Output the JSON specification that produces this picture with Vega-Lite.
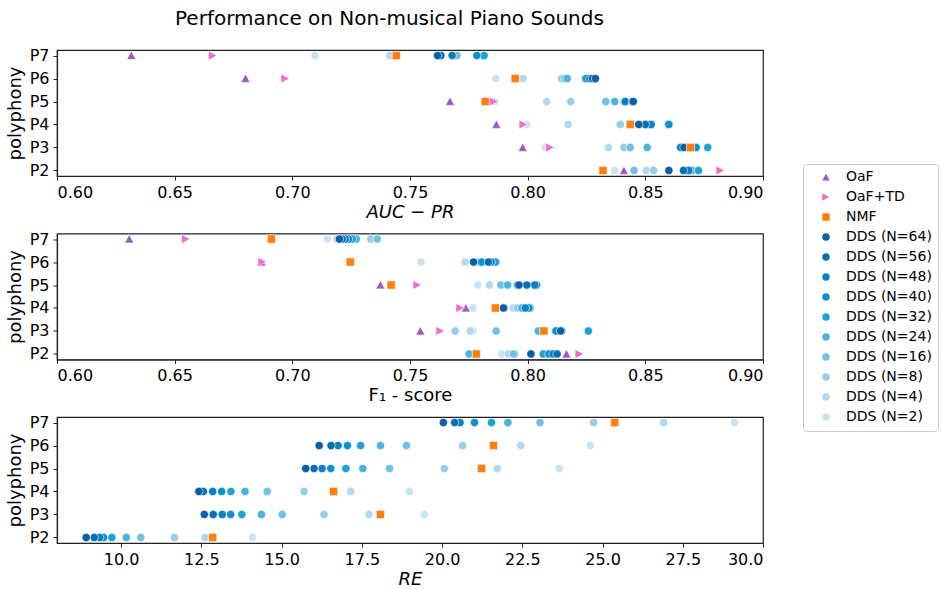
{
  "$schema": "https://vega.github.io/schema/vega-lite/v6.json",
  "background": "white",
  "padding": {"left": 5, "top": 8, "right": 5, "bottom": 5},
  "config": {
    "font": "DejaVu Sans",
    "view": {"stroke": "#222222", "strokeWidth": 1.2},
    "axis": {"domainColor": "#222222", "domainWidth": 1.2, "tickColor": "#222222", "labelColor": "black", "titleColor": "black", "labelFont": "DejaVu Sans", "titleFont": "DejaVu Sans", "labelFontSize": 16, "titleFontSize": 18, "titleFontWeight": "normal", "grid": false, "tickSize": 4, "labelPadding": 4},
    "legend": {"labelFont": "DejaVu Sans", "labelFontSize": 14, "labelColor": "black"},
    "title": {"font": "DejaVu Sans", "fontSize": 20, "fontWeight": "normal", "color": "black"}
  },
  "title": {"text": "Performance on Non-musical Piano Sounds", "anchor": "start", "frame": "group", "dx": 118, "offset": 18},
  "datasets": {
    "rows": [
      {"metric":"AUC","polyphony":"P7","method":"DDS (N=2)","value":0.7096},
      {"metric":"AUC","polyphony":"P7","method":"DDS (N=4)","value":0.7414},
      {"metric":"AUC","polyphony":"P7","method":"DDS (N=8)","value":0.7699},
      {"metric":"AUC","polyphony":"P7","method":"DDS (N=16)","value":0.7700},
      {"metric":"AUC","polyphony":"P7","method":"DDS (N=24)","value":0.7810},
      {"metric":"AUC","polyphony":"P7","method":"DDS (N=32)","value":0.7815},
      {"metric":"AUC","polyphony":"P7","method":"DDS (N=40)","value":0.7784},
      {"metric":"AUC","polyphony":"P7","method":"DDS (N=48)","value":0.7679},
      {"metric":"AUC","polyphony":"P7","method":"DDS (N=56)","value":0.7631},
      {"metric":"AUC","polyphony":"P7","method":"DDS (N=64)","value":0.7617},
      {"metric":"AUC","polyphony":"P7","method":"NMF","value":0.7442},
      {"metric":"AUC","polyphony":"P7","method":"OaF","value":0.6316},
      {"metric":"AUC","polyphony":"P7","method":"OaF+TD","value":0.6661},

      {"metric":"AUC","polyphony":"P6","method":"DDS (N=2)","value":0.7864},
      {"metric":"AUC","polyphony":"P6","method":"DDS (N=4)","value":0.7981},
      {"metric":"AUC","polyphony":"P6","method":"DDS (N=8)","value":0.8144},
      {"metric":"AUC","polyphony":"P6","method":"DDS (N=16)","value":0.8158},
      {"metric":"AUC","polyphony":"P6","method":"DDS (N=24)","value":0.8168},
      {"metric":"AUC","polyphony":"P6","method":"DDS (N=32)","value":0.8245},
      {"metric":"AUC","polyphony":"P6","method":"DDS (N=40)","value":0.8250},
      {"metric":"AUC","polyphony":"P6","method":"DDS (N=48)","value":0.8264},
      {"metric":"AUC","polyphony":"P6","method":"DDS (N=56)","value":0.8275},
      {"metric":"AUC","polyphony":"P6","method":"DDS (N=64)","value":0.8288},
      {"metric":"AUC","polyphony":"P6","method":"NMF","value":0.7947},
      {"metric":"AUC","polyphony":"P6","method":"OaF","value":0.6801},
      {"metric":"AUC","polyphony":"P6","method":"OaF+TD","value":0.6969},

      {"metric":"AUC","polyphony":"P5","method":"DDS (N=2)","value":0.7860},
      {"metric":"AUC","polyphony":"P5","method":"DDS (N=4)","value":0.8081},
      {"metric":"AUC","polyphony":"P5","method":"DDS (N=8)","value":0.8183},
      {"metric":"AUC","polyphony":"P5","method":"DDS (N=16)","value":0.8332},
      {"metric":"AUC","polyphony":"P5","method":"DDS (N=24)","value":0.8370},
      {"metric":"AUC","polyphony":"P5","method":"DDS (N=32)","value":0.8410},
      {"metric":"AUC","polyphony":"P5","method":"DDS (N=40)","value":0.8412},
      {"metric":"AUC","polyphony":"P5","method":"DDS (N=48)","value":0.8415},
      {"metric":"AUC","polyphony":"P5","method":"DDS (N=56)","value":0.8445},
      {"metric":"AUC","polyphony":"P5","method":"DDS (N=64)","value":0.8449},
      {"metric":"AUC","polyphony":"P5","method":"NMF","value":0.7820},
      {"metric":"AUC","polyphony":"P5","method":"OaF","value":0.7670},
      {"metric":"AUC","polyphony":"P5","method":"OaF+TD","value":0.7856},

      {"metric":"AUC","polyphony":"P4","method":"DDS (N=2)","value":0.7996},
      {"metric":"AUC","polyphony":"P4","method":"DDS (N=4)","value":0.8172},
      {"metric":"AUC","polyphony":"P4","method":"DDS (N=8)","value":0.8394},
      {"metric":"AUC","polyphony":"P4","method":"DDS (N=16)","value":0.8508},
      {"metric":"AUC","polyphony":"P4","method":"DDS (N=24)","value":0.8520},
      {"metric":"AUC","polyphony":"P4","method":"DDS (N=32)","value":0.8598},
      {"metric":"AUC","polyphony":"P4","method":"DDS (N=40)","value":0.8600},
      {"metric":"AUC","polyphony":"P4","method":"DDS (N=48)","value":0.8525},
      {"metric":"AUC","polyphony":"P4","method":"DDS (N=56)","value":0.8500},
      {"metric":"AUC","polyphony":"P4","method":"DDS (N=64)","value":0.8472},
      {"metric":"AUC","polyphony":"P4","method":"NMF","value":0.8436},
      {"metric":"AUC","polyphony":"P4","method":"OaF","value":0.7867},
      {"metric":"AUC","polyphony":"P4","method":"OaF+TD","value":0.7981},

      {"metric":"AUC","polyphony":"P3","method":"DDS (N=2)","value":0.8076},
      {"metric":"AUC","polyphony":"P3","method":"DDS (N=4)","value":0.8343},
      {"metric":"AUC","polyphony":"P3","method":"DDS (N=8)","value":0.8409},
      {"metric":"AUC","polyphony":"P3","method":"DDS (N=16)","value":0.8436},
      {"metric":"AUC","polyphony":"P3","method":"DDS (N=24)","value":0.8508},
      {"metric":"AUC","polyphony":"P3","method":"DDS (N=32)","value":0.8765},
      {"metric":"AUC","polyphony":"P3","method":"DDS (N=40)","value":0.8716},
      {"metric":"AUC","polyphony":"P3","method":"DDS (N=48)","value":0.8650},
      {"metric":"AUC","polyphony":"P3","method":"DDS (N=56)","value":0.8690},
      {"metric":"AUC","polyphony":"P3","method":"DDS (N=64)","value":0.8664},
      {"metric":"AUC","polyphony":"P3","method":"NMF","value":0.8692},
      {"metric":"AUC","polyphony":"P3","method":"OaF","value":0.7979},
      {"metric":"AUC","polyphony":"P3","method":"OaF+TD","value":0.8094},

      {"metric":"AUC","polyphony":"P2","method":"DDS (N=2)","value":0.8369},
      {"metric":"AUC","polyphony":"P2","method":"DDS (N=4)","value":0.8504},
      {"metric":"AUC","polyphony":"P2","method":"DDS (N=8)","value":0.8535},
      {"metric":"AUC","polyphony":"P2","method":"DDS (N=16)","value":0.8452},
      {"metric":"AUC","polyphony":"P2","method":"DDS (N=24)","value":0.8699},
      {"metric":"AUC","polyphony":"P2","method":"DDS (N=32)","value":0.8726},
      {"metric":"AUC","polyphony":"P2","method":"DDS (N=40)","value":0.8680},
      {"metric":"AUC","polyphony":"P2","method":"DDS (N=48)","value":0.8685},
      {"metric":"AUC","polyphony":"P2","method":"DDS (N=56)","value":0.8662},
      {"metric":"AUC","polyphony":"P2","method":"DDS (N=64)","value":0.8600},
      {"metric":"AUC","polyphony":"P2","method":"NMF","value":0.8320},
      {"metric":"AUC","polyphony":"P2","method":"OaF","value":0.8409},
      {"metric":"AUC","polyphony":"P2","method":"OaF+TD","value":0.8818},

      {"metric":"F1","polyphony":"P7","method":"DDS (N=2)","value":0.7149},
      {"metric":"F1","polyphony":"P7","method":"DDS (N=4)","value":0.7190},
      {"metric":"F1","polyphony":"P7","method":"DDS (N=8)","value":0.7333},
      {"metric":"F1","polyphony":"P7","method":"DDS (N=16)","value":0.7361},
      {"metric":"F1","polyphony":"P7","method":"DDS (N=24)","value":0.7272},
      {"metric":"F1","polyphony":"P7","method":"DDS (N=32)","value":0.7255},
      {"metric":"F1","polyphony":"P7","method":"DDS (N=40)","value":0.7239},
      {"metric":"F1","polyphony":"P7","method":"DDS (N=48)","value":0.7225},
      {"metric":"F1","polyphony":"P7","method":"DDS (N=56)","value":0.7212},
      {"metric":"F1","polyphony":"P7","method":"DDS (N=64)","value":0.7200},
      {"metric":"F1","polyphony":"P7","method":"NMF","value":0.6911},
      {"metric":"F1","polyphony":"P7","method":"OaF","value":0.6307},
      {"metric":"F1","polyphony":"P7","method":"OaF+TD","value":0.6547},

      {"metric":"F1","polyphony":"P6","method":"DDS (N=2)","value":0.7547},
      {"metric":"F1","polyphony":"P6","method":"DDS (N=4)","value":0.7734},
      {"metric":"F1","polyphony":"P6","method":"DDS (N=8)","value":0.7786},
      {"metric":"F1","polyphony":"P6","method":"DDS (N=16)","value":0.7790},
      {"metric":"F1","polyphony":"P6","method":"DDS (N=24)","value":0.7800},
      {"metric":"F1","polyphony":"P6","method":"DDS (N=32)","value":0.7864},
      {"metric":"F1","polyphony":"P6","method":"DDS (N=40)","value":0.7805},
      {"metric":"F1","polyphony":"P6","method":"DDS (N=48)","value":0.7845},
      {"metric":"F1","polyphony":"P6","method":"DDS (N=56)","value":0.7833},
      {"metric":"F1","polyphony":"P6","method":"DDS (N=64)","value":0.7770},
      {"metric":"F1","polyphony":"P6","method":"NMF","value":0.7246},
      {"metric":"F1","polyphony":"P6","method":"OaF","value":0.6869},
      {"metric":"F1","polyphony":"P6","method":"OaF+TD","value":0.6871},

      {"metric":"F1","polyphony":"P5","method":"DDS (N=2)","value":0.7788},
      {"metric":"F1","polyphony":"P5","method":"DDS (N=4)","value":0.7837},
      {"metric":"F1","polyphony":"P5","method":"DDS (N=8)","value":0.8024},
      {"metric":"F1","polyphony":"P5","method":"DDS (N=16)","value":0.7886},
      {"metric":"F1","polyphony":"P5","method":"DDS (N=24)","value":0.7915},
      {"metric":"F1","polyphony":"P5","method":"DDS (N=32)","value":0.7956},
      {"metric":"F1","polyphony":"P5","method":"DDS (N=40)","value":0.8038},
      {"metric":"F1","polyphony":"P5","method":"DDS (N=48)","value":0.8030},
      {"metric":"F1","polyphony":"P5","method":"DDS (N=56)","value":0.7996},
      {"metric":"F1","polyphony":"P5","method":"DDS (N=64)","value":0.7963},
      {"metric":"F1","polyphony":"P5","method":"NMF","value":0.7420},
      {"metric":"F1","polyphony":"P5","method":"OaF","value":0.7374},
      {"metric":"F1","polyphony":"P5","method":"OaF+TD","value":0.7530},

      {"metric":"F1","polyphony":"P4","method":"DDS (N=2)","value":0.7767},
      {"metric":"F1","polyphony":"P4","method":"DDS (N=4)","value":0.7939},
      {"metric":"F1","polyphony":"P4","method":"DDS (N=8)","value":0.7956},
      {"metric":"F1","polyphony":"P4","method":"DDS (N=16)","value":0.7984},
      {"metric":"F1","polyphony":"P4","method":"DDS (N=24)","value":0.7975},
      {"metric":"F1","polyphony":"P4","method":"DDS (N=32)","value":0.8010},
      {"metric":"F1","polyphony":"P4","method":"DDS (N=40)","value":0.8005},
      {"metric":"F1","polyphony":"P4","method":"DDS (N=48)","value":0.7990},
      {"metric":"F1","polyphony":"P4","method":"DDS (N=56)","value":0.7900},
      {"metric":"F1","polyphony":"P4","method":"DDS (N=64)","value":0.7897},
      {"metric":"F1","polyphony":"P4","method":"NMF","value":0.7863},
      {"metric":"F1","polyphony":"P4","method":"OaF","value":0.7737},
      {"metric":"F1","polyphony":"P4","method":"OaF+TD","value":0.7713},

      {"metric":"F1","polyphony":"P3","method":"DDS (N=2)","value":0.7767},
      {"metric":"F1","polyphony":"P3","method":"DDS (N=4)","value":0.7756},
      {"metric":"F1","polyphony":"P3","method":"DDS (N=8)","value":0.7692},
      {"metric":"F1","polyphony":"P3","method":"DDS (N=16)","value":0.7866},
      {"metric":"F1","polyphony":"P3","method":"DDS (N=24)","value":0.8045},
      {"metric":"F1","polyphony":"P3","method":"DDS (N=32)","value":0.8258},
      {"metric":"F1","polyphony":"P3","method":"DDS (N=40)","value":0.8120},
      {"metric":"F1","polyphony":"P3","method":"DDS (N=48)","value":0.8069},
      {"metric":"F1","polyphony":"P3","method":"DDS (N=56)","value":0.8144},
      {"metric":"F1","polyphony":"P3","method":"DDS (N=64)","value":0.8140},
      {"metric":"F1","polyphony":"P3","method":"NMF","value":0.8069},
      {"metric":"F1","polyphony":"P3","method":"OaF","value":0.7544},
      {"metric":"F1","polyphony":"P3","method":"OaF+TD","value":0.7628},

      {"metric":"F1","polyphony":"P2","method":"DDS (N=2)","value":0.7890},
      {"metric":"F1","polyphony":"P2","method":"DDS (N=4)","value":0.7918},
      {"metric":"F1","polyphony":"P2","method":"DDS (N=8)","value":0.7946},
      {"metric":"F1","polyphony":"P2","method":"DDS (N=16)","value":0.7940},
      {"metric":"F1","polyphony":"P2","method":"DDS (N=24)","value":0.7751},
      {"metric":"F1","polyphony":"P2","method":"DDS (N=32)","value":0.8066},
      {"metric":"F1","polyphony":"P2","method":"DDS (N=40)","value":0.8090},
      {"metric":"F1","polyphony":"P2","method":"DDS (N=48)","value":0.8108},
      {"metric":"F1","polyphony":"P2","method":"DDS (N=56)","value":0.8125},
      {"metric":"F1","polyphony":"P2","method":"DDS (N=64)","value":0.8014},
      {"metric":"F1","polyphony":"P2","method":"NMF","value":0.7782},
      {"metric":"F1","polyphony":"P2","method":"OaF","value":0.8165},
      {"metric":"F1","polyphony":"P2","method":"OaF+TD","value":0.8219},

      {"metric":"RE","polyphony":"P7","method":"DDS (N=2)","value":29.11},
      {"metric":"RE","polyphony":"P7","method":"DDS (N=4)","value":26.90},
      {"metric":"RE","polyphony":"P7","method":"DDS (N=8)","value":24.72},
      {"metric":"RE","polyphony":"P7","method":"DDS (N=16)","value":23.05},
      {"metric":"RE","polyphony":"P7","method":"DDS (N=24)","value":22.05},
      {"metric":"RE","polyphony":"P7","method":"DDS (N=32)","value":21.54},
      {"metric":"RE","polyphony":"P7","method":"DDS (N=40)","value":21.01},
      {"metric":"RE","polyphony":"P7","method":"DDS (N=48)","value":20.56},
      {"metric":"RE","polyphony":"P7","method":"DDS (N=56)","value":20.39},
      {"metric":"RE","polyphony":"P7","method":"DDS (N=64)","value":20.04},
      {"metric":"RE","polyphony":"P7","method":"NMF","value":25.38},

      {"metric":"RE","polyphony":"P6","method":"DDS (N=2)","value":24.62},
      {"metric":"RE","polyphony":"P6","method":"DDS (N=4)","value":22.45},
      {"metric":"RE","polyphony":"P6","method":"DDS (N=8)","value":20.64},
      {"metric":"RE","polyphony":"P6","method":"DDS (N=16)","value":18.89},
      {"metric":"RE","polyphony":"P6","method":"DDS (N=24)","value":18.08},
      {"metric":"RE","polyphony":"P6","method":"DDS (N=32)","value":17.46},
      {"metric":"RE","polyphony":"P6","method":"DDS (N=40)","value":17.05},
      {"metric":"RE","polyphony":"P6","method":"DDS (N=48)","value":16.76},
      {"metric":"RE","polyphony":"P6","method":"DDS (N=56)","value":16.54},
      {"metric":"RE","polyphony":"P6","method":"DDS (N=64)","value":16.17},
      {"metric":"RE","polyphony":"P6","method":"NMF","value":21.60},

      {"metric":"RE","polyphony":"P5","method":"DDS (N=2)","value":23.65},
      {"metric":"RE","polyphony":"P5","method":"DDS (N=4)","value":21.72},
      {"metric":"RE","polyphony":"P5","method":"DDS (N=8)","value":20.07},
      {"metric":"RE","polyphony":"P5","method":"DDS (N=16)","value":18.36},
      {"metric":"RE","polyphony":"P5","method":"DDS (N=24)","value":17.53},
      {"metric":"RE","polyphony":"P5","method":"DDS (N=32)","value":17.00},
      {"metric":"RE","polyphony":"P5","method":"DDS (N=40)","value":16.53},
      {"metric":"RE","polyphony":"P5","method":"DDS (N=48)","value":16.26},
      {"metric":"RE","polyphony":"P5","method":"DDS (N=56)","value":16.01},
      {"metric":"RE","polyphony":"P5","method":"DDS (N=64)","value":15.75},
      {"metric":"RE","polyphony":"P5","method":"NMF","value":21.23},

      {"metric":"RE","polyphony":"P4","method":"DDS (N=2)","value":18.98},
      {"metric":"RE","polyphony":"P4","method":"DDS (N=4)","value":17.15},
      {"metric":"RE","polyphony":"P4","method":"DDS (N=8)","value":15.70},
      {"metric":"RE","polyphony":"P4","method":"DDS (N=16)","value":14.55},
      {"metric":"RE","polyphony":"P4","method":"DDS (N=24)","value":13.86},
      {"metric":"RE","polyphony":"P4","method":"DDS (N=32)","value":13.42},
      {"metric":"RE","polyphony":"P4","method":"DDS (N=40)","value":13.13},
      {"metric":"RE","polyphony":"P4","method":"DDS (N=48)","value":12.85},
      {"metric":"RE","polyphony":"P4","method":"DDS (N=56)","value":12.56},
      {"metric":"RE","polyphony":"P4","method":"DDS (N=64)","value":12.42},
      {"metric":"RE","polyphony":"P4","method":"NMF","value":16.62},

      {"metric":"RE","polyphony":"P3","method":"DDS (N=2)","value":19.45},
      {"metric":"RE","polyphony":"P3","method":"DDS (N=4)","value":17.72},
      {"metric":"RE","polyphony":"P3","method":"DDS (N=8)","value":16.32},
      {"metric":"RE","polyphony":"P3","method":"DDS (N=16)","value":15.02},
      {"metric":"RE","polyphony":"P3","method":"DDS (N=24)","value":14.37},
      {"metric":"RE","polyphony":"P3","method":"DDS (N=32)","value":13.76},
      {"metric":"RE","polyphony":"P3","method":"DDS (N=40)","value":13.41},
      {"metric":"RE","polyphony":"P3","method":"DDS (N=48)","value":13.15},
      {"metric":"RE","polyphony":"P3","method":"DDS (N=56)","value":12.87},
      {"metric":"RE","polyphony":"P3","method":"DDS (N=64)","value":12.59},
      {"metric":"RE","polyphony":"P3","method":"NMF","value":18.08},

      {"metric":"RE","polyphony":"P2","method":"DDS (N=2)","value":14.09},
      {"metric":"RE","polyphony":"P2","method":"DDS (N=4)","value":12.61},
      {"metric":"RE","polyphony":"P2","method":"DDS (N=8)","value":11.66},
      {"metric":"RE","polyphony":"P2","method":"DDS (N=16)","value":10.61},
      {"metric":"RE","polyphony":"P2","method":"DDS (N=24)","value":10.16},
      {"metric":"RE","polyphony":"P2","method":"DDS (N=32)","value":9.71},
      {"metric":"RE","polyphony":"P2","method":"DDS (N=40)","value":9.45},
      {"metric":"RE","polyphony":"P2","method":"DDS (N=48)","value":9.33},
      {"metric":"RE","polyphony":"P2","method":"DDS (N=56)","value":9.16},
      {"metric":"RE","polyphony":"P2","method":"DDS (N=64)","value":8.91},
      {"metric":"RE","polyphony":"P2","method":"NMF","value":12.85}
    ]
  },
  "data": {"name": "rows"},
  "spacing": 57.5,
  "bounds": "flush",
  "vconcat": [
    {
      "width": 706, "height": 126,
      "transform": [{"filter": "datum.metric === 'AUC'"}],
      "mark": {"type": "point", "filled": true, "size": 68, "opacity": 1, "stroke": "white", "strokeWidth": 0.6},
      "encoding": {
        "x": {"field": "value", "type": "quantitative", "scale": {"domain": [0.6, 0.9], "nice": false, "zero": false}, "axis": {"title": "AUC − PR", "titleFontStyle": "italic", "values": [0.6, 0.65, 0.7, 0.75, 0.8, 0.85, 0.9], "format": ".2f", "titlePadding": 3}},
        "y": {"field": "polyphony", "type": "ordinal", "scale": {"type": "point", "domain": ["P7", "P6", "P5", "P4", "P3", "P2"], "padding": 0.24}, "axis": {"title": "polyphony", "titlePadding": 5}},
        "color": {"field": "method", "type": "nominal",
          "scale": {"domain": ["OaF", "OaF+TD", "NMF", "DDS (N=64)", "DDS (N=56)", "DDS (N=48)", "DDS (N=40)", "DDS (N=32)", "DDS (N=24)", "DDS (N=16)", "DDS (N=8)", "DDS (N=4)", "DDS (N=2)"],
                    "range": ["#9d5cc0", "#f06ccb", "#ff7f0e", "#0a5fa6", "#096eb3", "#0a80bf", "#0b92c9", "#1ca3d4", "#4cb3dc", "#72c1e2", "#96cde8", "#b1d8ee", "#c9e3f3"]},
          "legend": {"title": null, "orient": "none", "legendX": 746, "legendY": 114, "fillColor": "white", "strokeColor": "#cccccc", "padding": 6, "cornerRadius": 3, "symbolOffset": 10, "labelOffset": 13, "rowPadding": 4, "symbolSize": 80, "labelFontSize": 14}},
        "shape": {"field": "method", "type": "nominal",
          "scale": {"domain": ["OaF", "OaF+TD", "NMF", "DDS (N=64)", "DDS (N=56)", "DDS (N=48)", "DDS (N=40)", "DDS (N=32)", "DDS (N=24)", "DDS (N=16)", "DDS (N=8)", "DDS (N=4)", "DDS (N=2)"],
                    "range": ["M0,-1.1L1.1,0.95L-1.1,0.95Z", "M-1,-1.1L1.1,0L-1,1.1Z", "square", "circle", "circle", "circle", "circle", "circle", "circle", "circle", "circle", "circle", "circle"]},
          "legend": {"title": null, "orient": "none", "legendX": 746, "legendY": 114, "fillColor": "white", "strokeColor": "#cccccc", "padding": 6, "cornerRadius": 3, "symbolOffset": 10, "labelOffset": 13, "rowPadding": 4, "symbolSize": 80, "labelFontSize": 14}}
      }
    },
    {
      "width": 706, "height": 126,
      "transform": [{"filter": "datum.metric === 'F1'"}],
      "mark": {"type": "point", "filled": true, "size": 68, "opacity": 1, "stroke": "white", "strokeWidth": 0.6},
      "encoding": {
        "x": {"field": "value", "type": "quantitative", "scale": {"domain": [0.6, 0.9], "nice": false, "zero": false}, "axis": {"title": "F₁ - score", "values": [0.6, 0.65, 0.7, 0.75, 0.8, 0.85, 0.9], "format": ".2f", "titlePadding": 3}},
        "y": {"field": "polyphony", "type": "ordinal", "scale": {"type": "point", "domain": ["P7", "P6", "P5", "P4", "P3", "P2"], "padding": 0.24}, "axis": {"title": "polyphony", "titlePadding": 5}},
        "color": {"field": "method", "type": "nominal"},
        "shape": {"field": "method", "type": "nominal"}
      }
    },
    {
      "width": 706, "height": 126,
      "transform": [{"filter": "datum.metric === 'RE'"}],
      "mark": {"type": "point", "filled": true, "size": 68, "opacity": 1, "stroke": "white", "strokeWidth": 0.6},
      "encoding": {
        "x": {"field": "value", "type": "quantitative", "scale": {"domain": [8.0, 30], "nice": false, "zero": false}, "axis": {"title": "RE", "titleFontStyle": "italic", "values": [10, 12.5, 15, 17.5, 20, 22.5, 25, 27.5, 30], "format": ".1f", "titlePadding": 3}},
        "y": {"field": "polyphony", "type": "ordinal", "scale": {"type": "point", "domain": ["P7", "P6", "P5", "P4", "P3", "P2"], "padding": 0.24}, "axis": {"title": "polyphony", "titlePadding": 5}},
        "color": {"field": "method", "type": "nominal"},
        "shape": {"field": "method", "type": "nominal"}
      }
    }
  ]
}
